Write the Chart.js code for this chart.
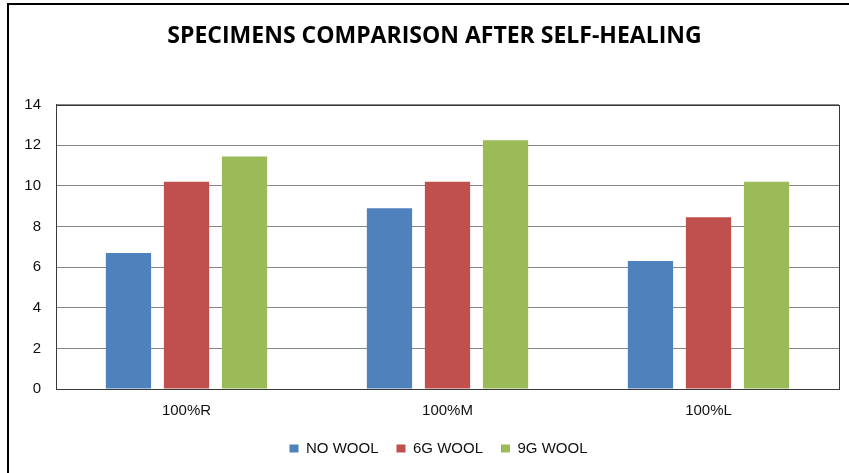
<!DOCTYPE html>
<html>
<head>
<meta charset="utf-8">
<script src="https://cdn.jsdelivr.net/npm/chart.js@4.4.1/dist/chart.umd.min.js"></script>
<style>
  body { margin: 0; background: #fff; }
  #wrap { position: relative; width: 849px; height: 473px; overflow: hidden; }
  #frame { position: absolute; left: 7px; top: 3px; width: 900px; height: 500px;
           border-left: 2px solid #000; border-top: 2px solid #000; }
  canvas { position: absolute; left: 0; top: 0; }
</style>
</head>
<body>
<div id="wrap">
  <div id="frame"></div>
  <canvas id="my-chart" width="849" height="473"></canvas>
</div>
<script>
'use strict';

let categories = ['100%R', '100%M', '100%L'];
let noWool = [6.7, 8.9, 6.3];
let sixGWool = [10.2, 10.2, 8.45];
let nineGWool = [11.45, 12.25, 10.2];
let yTicks = [0, 2, 4, 6, 8, 10, 12, 14];

let canvasElem = document.getElementById('my-chart');

// box around the plot area, title and legend centred like the original
let plotFrame = {
  id: 'plotFrame',
  afterLayout(chart) {
    chart.legend.left += 19;
    chart.legend.right += 19;
    chart.titleBlock.left += 15;
    chart.titleBlock.right += 15;
  },
  afterDatasetsDraw(chart) {
    let a = chart.chartArea;
    let ctx = chart.ctx;
    ctx.save();
    ctx.strokeStyle = '#3a3a3a';
    ctx.lineWidth = 1;
    ctx.strokeRect(Math.round(a.left) + 0.5, Math.round(a.top) + 0.5,
      Math.round(a.right - a.left), Math.round(a.bottom - a.top));
    ctx.restore();
  }
};

let chartObj = {
  type: 'bar',
  data: {
    labels: categories,
    datasets: [{
      label: 'NO WOOL',
      data: noWool,
      backgroundColor: '#4f81bd'
    },
    {
      label: '6G WOOL',
      data: sixGWool,
      backgroundColor: '#c0504d'
    },
    {
      label: '9G WOOL',
      data: nineGWool,
      backgroundColor: '#9bbb59'
    }]
  },
  options: {
    responsive: false,
    animation: false,
    devicePixelRatio: 1,
    categoryPercentage: 0.667,
    barPercentage: 0.78,
    layout: {
      padding: { left: 0, right: 10, top: 0, bottom: 7 }
    },
    plugins: {
      title: {
        display: true,
        text: 'SPECIMENS COMPARISON AFTER SELF-HEALING',
        color: '#000',
        font: { family: '"Open Sans", sans-serif', size: 23, weight: 'bold', lineHeight: 1.2 },
        padding: { top: 23, bottom: 54 }
      },
      legend: {
        position: 'bottom',
        labels: {
          color: '#111',
          boxWidth: 9,
          boxHeight: 8,
          padding: 18,
          font: { family: '"Liberation Sans", sans-serif', size: 15 }
        }
      },
      tooltip: { enabled: false }
    },
    scales: {
      x: {
        grid: { display: false },
        border: { display: true, color: '#3a3a3a' },
        ticks: {
          color: '#111',
          padding: 5,
          font: { family: '"Liberation Sans", sans-serif', size: 15 }
        },
        afterFit(scale) { scale.height = 34; }
      },
      y: {
        min: 0,
        max: 14,
        afterBuildTicks(scale) {
          scale.ticks = yTicks.map(v => ({ value: v }));
        },
        grid: { color: '#868686', drawTicks: false },
        border: { display: true, color: '#3a3a3a' },
        ticks: {
          color: '#111',
          padding: 15,
          font: { family: '"Liberation Sans", sans-serif', size: 15 }
        },
        afterFit(scale) { scale.width = 56; }
      }
    }
  },
  plugins: [plotFrame]
};

new Chart(canvasElem, chartObj); //eslint-disable-line
</script>
</body>
</html>
